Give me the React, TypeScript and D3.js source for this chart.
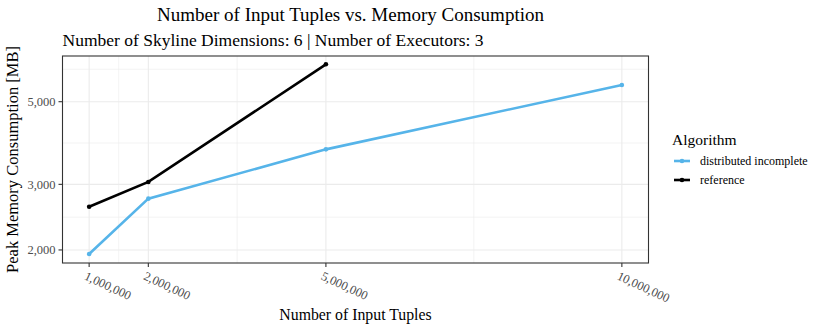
import React, { useEffect, useRef } from "react";
import * as d3 from "d3";

// --- data ---
const tuples = [1000000, 2000000, 5000000, 10000000];
const distributedIncomplete = [1950, 2746, 3724, 5546];
const referenceAlgo = [2613, 3045, 6300]; // no run at 10M
const yBreaks = [2000, 3000, 5000];
const yMinor = [2449, 3873, 6110];
const xMinor = [1500000, 3500000, 7500000];
const seriesNames = ["distributed incomplete", "reference"];
const seriesColors = ["#56B4E9", "#000000"];

const W = 830;
const H = 332;
const FONT = "'Liberation Serif', 'Times New Roman', serif";

export default function App() {
  const svgRef = useRef<SVGSVGElement>(null);

  useEffect(() => {
    const svg = d3.select(svgRef.current);
    svg.selectAll("*").remove();

    const m = { left: 62.5, top: 56, right: 648.5, bottom: 263 };

    const x = d3.scaleLinear().domain([550000, 10450000]).range([m.left, m.right]);
    const y = d3.scaleLog().domain([1845, 6632]).range([m.bottom, m.top]);

    const series = [
      { name: seriesNames[0], color: seriesColors[0], pts: distributedIncomplete.map((v, i) => [tuples[i], v]) },
      { name: seriesNames[1], color: seriesColors[1], pts: referenceAlgo.map((v, i) => [tuples[i], v]) },
    ];

    // panel background + grid
    svg.append("rect")
      .attr("x", m.left).attr("y", m.top)
      .attr("width", m.right - m.left).attr("height", m.bottom - m.top)
      .attr("fill", "white");

    const grid = svg.append("g");
    grid.selectAll("line.ym").data(yMinor).join("line")
      .attr("x1", m.left).attr("x2", m.right)
      .attr("y1", d => y(d)).attr("y2", d => y(d))
      .attr("stroke", "#EBEBEB").attr("stroke-width", 0.6);
    grid.selectAll("line.xm").data(xMinor).join("line")
      .attr("y1", m.top).attr("y2", m.bottom)
      .attr("x1", d => x(d)).attr("x2", d => x(d))
      .attr("stroke", "#EBEBEB").attr("stroke-width", 0.6);
    grid.selectAll("line.yM").data(yBreaks).join("line")
      .attr("x1", m.left).attr("x2", m.right)
      .attr("y1", d => y(d)).attr("y2", d => y(d))
      .attr("stroke", "#EBEBEB").attr("stroke-width", 1.1);
    grid.selectAll("line.xM").data(tuples).join("line")
      .attr("y1", m.top).attr("y2", m.bottom)
      .attr("x1", d => x(d)).attr("x2", d => x(d))
      .attr("stroke", "#EBEBEB").attr("stroke-width", 1.1);

    // lines + points
    const line = d3.line<number[]>().x(d => x(d[0])).y(d => y(d[1]));
    series.forEach(s => {
      svg.append("path")
        .attr("d", line(s.pts))
        .attr("fill", "none")
        .attr("stroke", s.color)
        .attr("stroke-width", 2.6);
      svg.append("g").selectAll("circle").data(s.pts).join("circle")
        .attr("cx", d => x(d[0])).attr("cy", d => y(d[1]))
        .attr("r", 2.3).attr("fill", s.color);
    });

    // panel border
    svg.append("rect")
      .attr("x", m.left).attr("y", m.top)
      .attr("width", m.right - m.left).attr("height", m.bottom - m.top)
      .attr("fill", "none").attr("stroke", "#333333").attr("stroke-width", 1.1);

    // y axis
    const fmt = d3.format(",");
    const ya = svg.append("g");
    ya.selectAll("line").data(yBreaks).join("line")
      .attr("x1", m.left - 4).attr("x2", m.left)
      .attr("y1", d => y(d)).attr("y2", d => y(d))
      .attr("stroke", "#333333").attr("stroke-width", 1.1);
    ya.selectAll("text").data(yBreaks).join("text")
      .attr("x", m.left - 7).attr("y", d => y(d))
      .attr("dy", "0.35em").attr("text-anchor", "end")
      .attr("font-family", FONT).attr("font-size", 12.5).attr("fill", "#4D4D4D")
      .text(d => fmt(d));

    // x axis
    const xa = svg.append("g");
    xa.selectAll("line").data(tuples).join("line")
      .attr("x1", d => x(d)).attr("x2", d => x(d))
      .attr("y1", m.bottom).attr("y2", m.bottom + 4)
      .attr("stroke", "#333333").attr("stroke-width", 1.1);
    xa.selectAll("text").data(tuples).join("text")
      .attr("transform", d => `translate(${x(d) - 2},${m.bottom + 8}) rotate(25)`)
      .attr("dy", "0.7em")
      .attr("font-family", FONT).attr("font-size", 12.5).attr("fill", "#4D4D4D")
      .text(d => fmt(d));

    // axis titles
    svg.append("text")
      .attr("x", (m.left + m.right) / 2).attr("y", 320)
      .attr("text-anchor", "middle")
      .attr("font-family", FONT).attr("font-size", 15.8)
      .text("Number of Input Tuples");
    svg.append("text")
      .attr("transform", `translate(18,${(m.top + m.bottom) / 2}) rotate(-90)`)
      .attr("text-anchor", "middle")
      .attr("font-family", FONT).attr("font-size", 16.5)
      .text("Peak Memory Consumption [MB]");

    // title + subtitle
    svg.append("text")
      .attr("x", (m.left + m.right) / 2 - 5).attr("y", 21)
      .attr("text-anchor", "middle")
      .attr("font-family", FONT).attr("font-size", 19)
      .text("Number of Input Tuples vs. Memory Consumption");
    svg.append("text")
      .attr("x", m.left).attr("y", 46)
      .attr("font-family", FONT).attr("font-size", 17.5)
      .text("Number of Skyline Dimensions: 6 | Number of Executors: 3");

    // legend
    const lg = svg.append("g");
    lg.append("text")
      .attr("x", 672).attr("y", 145)
      .attr("font-family", FONT).attr("font-size", 15.5)
      .text("Algorithm");
    series.forEach((s, i) => {
      const ky = 161 + i * 19;
      lg.append("line")
        .attr("x1", 674).attr("x2", 690).attr("y1", ky).attr("y2", ky)
        .attr("stroke", s.color).attr("stroke-width", 2.6);
      lg.append("circle").attr("cx", 682).attr("cy", ky).attr("r", 2.3).attr("fill", s.color);
      lg.append("text")
        .attr("x", 700).attr("y", ky).attr("dy", "0.35em")
        .attr("font-family", FONT).attr("font-size", 12)
        .text(s.name);
    });
  }, []);

  return <svg ref={svgRef} width={W} height={H} style={{ display: "block", position: "absolute", left: 0, top: 0 }} />;
}
